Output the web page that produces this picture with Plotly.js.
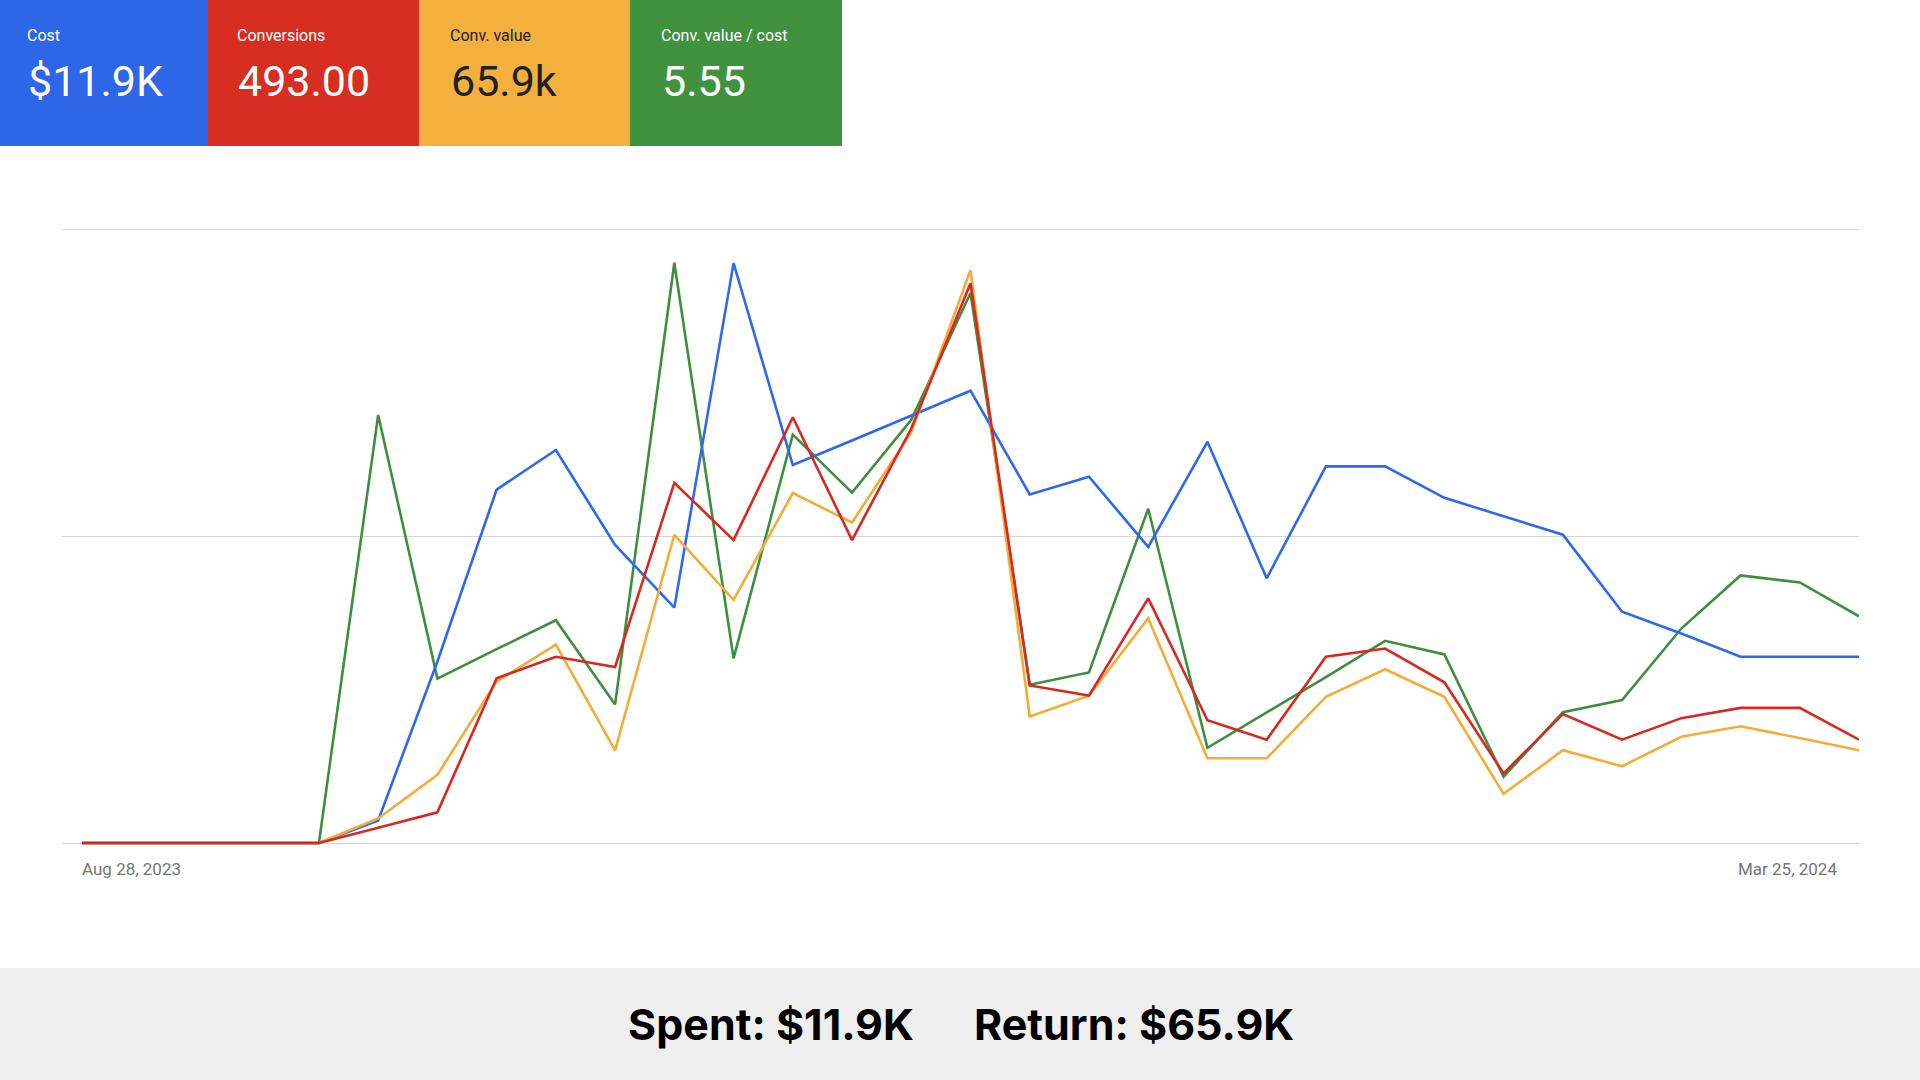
<!DOCTYPE html>
<html>
<head>
<meta charset="utf-8">
<script src="https://cdn.plot.ly/plotly-3.0.1.min.js"></script>
<style>
html,body{margin:0;padding:0;background:#ffffff;}
#chart{width:1920px;height:1080px;}
</style>
</head>
<body>
<div id="chart"></div>
<script>
// ---- data ----
const weeks = ['2023-08-28','2023-09-04','2023-09-11','2023-09-18','2023-09-25','2023-10-02','2023-10-09','2023-10-16','2023-10-23','2023-10-30','2023-11-06','2023-11-13','2023-11-20','2023-11-27','2023-12-04','2023-12-11','2023-12-18','2023-12-25','2024-01-01','2024-01-08','2024-01-15','2024-01-22','2024-01-29','2024-02-05','2024-02-12','2024-02-19','2024-02-26','2024-03-04','2024-03-11','2024-03-18','2024-03-25'];
const cost = [0,0,0,0,0,33,266,518,576,437,345,850,554,590,627,663,511,537,434,588,388,552,552,506,479,452,339,307,273,273,273];
const conversions = [0,0,0,0,0,1.5,3.0,16.1,18.2,17.2,35.2,29.6,41.6,29.6,40.5,54.7,15.4,14.4,23.9,12.0,10.1,18.2,19.0,15.7,6.8,12.6,10.1,12.2,13.2,13.2,10.1];
const convValue = [0,0,0,0,0,360,1000,2367,2907,1359,4518,3564,5130,4698,6021,8397,1854,2160,3294,1242,1242,2142,2547,2142,720,1359,1125,1557,1710,1539,1359];
const roas = [0,0,0,0,0,9.76,3.75,4.42,5.08,3.16,13.23,4.21,9.31,7.99,9.65,12.54,3.61,3.89,7.62,2.17,2.98,3.78,4.61,4.30,1.51,2.98,3.26,4.89,6.10,5.94,5.17];

const kpiLabels = ['Cost','Conversions','Conv. value','Conv. value / cost'];
const kpiValues = ['$11.9K','493.00','65.9k','5.55'];
const axisLabels = ['Aug 28, 2023','Mar 25, 2024'];
const footerTexts = ['Spent: $11.9K','Return: $65.9K'];

// ---- style ----
const tileColors = ['#2d66e6','#d82e21','#f3b03c','#41923f'];
const tileTextColors = ['#ffffff','#ffffff','#202124','#ffffff'];
const lineColors = {cost:'#2d68ee', conv:'#d8281f', value:'#f4ac38', roas:'#3d8f3f'};
const axisTops = {cost:900, conv:60, value:9000, roas:14};

// plot-area geometry in pixels
const PL = 62, PR = 1859, PT = 226, PB = 848;
const ZERO_PX = 843, TOP_PX = 229;
const PW = PR - PL, PH = PB - PT;
const px = x => (x - PL) / PW;
const py = y => (PB - y) / PH;
function rangeFor(T){
  const unit = T / (ZERO_PX - TOP_PX);
  return [-(PB - ZERO_PX) * unit, T + (TOP_PX - PT) * unit];
}

// overlay subplots are layered y, y2, y3, y4 -> conversions (red) ends on top
const lw = 2.6;
const traces = [
  {x: weeks, y: roas, yaxis:'y', name:'Conv. value / cost', mode:'lines', line:{color:lineColors.roas, width:lw}},
  {x: weeks, y: cost, yaxis:'y2', name:'Cost', mode:'lines', line:{color:lineColors.cost, width:lw}},
  {x: weeks, y: convValue, yaxis:'y3', name:'Conv. value', mode:'lines', line:{color:lineColors.value, width:lw}},
  {x: weeks, y: conversions, yaxis:'y4', name:'Conversions', mode:'lines', line:{color:lineColors.conv, width:lw}}
];

// ---- shapes ----
const tileEdges = [0,208,419,630,842];
const textLeft = [25,235,448,659];
const TILE_H = 146;
const shapes = [];
for (let i = 0; i < 4; i++) {
  shapes.push({type:'rect', xref:'paper', yref:'paper', x0:px(tileEdges[i]), x1:px(tileEdges[i+1]), y0:py(TILE_H), y1:py(0), fillcolor:tileColors[i], line:{width:0}, layer:'above'});
}
shapes.push({type:'rect', xref:'paper', yref:'paper', x0:px(0), x1:px(1920), y0:py(1080), y1:py(968), fillcolor:'#efefef', line:{width:0}, layer:'below'});

// ---- annotations ----
const annotations = [];
for (let i = 0; i < 4; i++) {
  annotations.push({xref:'paper', yref:'paper', x:px(textLeft[i]), y:py(35), xanchor:'left', yanchor:'middle', showarrow:false, text:kpiLabels[i], font:{family:'Roboto', size:16, color:tileTextColors[i]}});
  annotations.push({xref:'paper', yref:'paper', x:px(textLeft[i] + 1), y:py(81), xanchor:'left', yanchor:'middle', showarrow:false, text:kpiValues[i], font:{family:'Roboto', size:43, color:tileTextColors[i]}});
}
annotations.push({xref:'paper', yref:'paper', x:px(80), y:py(869), xanchor:'left', yanchor:'middle', showarrow:false, text:axisLabels[0], font:{family:'Roboto', size:17, color:'#757575'}});
annotations.push({xref:'paper', yref:'paper', x:px(1839), y:py(869), xanchor:'right', yanchor:'middle', showarrow:false, text:axisLabels[1], font:{family:'Roboto', size:17, color:'#757575'}});
annotations.push({xref:'paper', yref:'paper', x:px(916), y:py(1024), xanchor:'right', yanchor:'middle', showarrow:false, text:footerTexts[0], font:{family:'Inter', size:43, color:'#000000', weight:700}});
annotations.push({xref:'paper', yref:'paper', x:px(972), y:py(1024), xanchor:'left', yanchor:'middle', showarrow:false, text:footerTexts[1], font:{family:'Inter', size:43, color:'#000000', weight:700}});

// x range: first point sits 20px right of the plot's left edge
const pxPerDay = (PR - (PL + 20)) / 210;
const startMs = new Date('2023-08-28T00:00:00Z').getTime() - (20 / pxPerDay) * 86400000;
const startStr = new Date(startMs).toISOString().replace('T',' ').slice(0,19);

const hiddenY = T => ({overlaying:'y', visible:false, range:rangeFor(T), fixedrange:true});

const layout = {
  width:1920, height:1080,
  margin:{l:PL, r:1920-PR, t:PT, b:1080-PB, pad:0},
  paper_bgcolor:'#ffffff', plot_bgcolor:'#ffffff',
  showlegend:false,
  font:{family:'Roboto'},
  xaxis:{type:'date', range:[startStr, '2024-03-25 00:00:00'], showgrid:false, zeroline:false, showline:false, showticklabels:false, ticks:'', fixedrange:true},
  yaxis:{range:rangeFor(axisTops.roas), tickvals:[0, axisTops.roas/2, axisTops.roas], showticklabels:false, ticks:'', showgrid:true, gridcolor:'#d6d6d6', gridwidth:1, zeroline:false, showline:false, fixedrange:true},
  yaxis2:hiddenY(axisTops.cost),
  yaxis3:hiddenY(axisTops.value),
  yaxis4:hiddenY(axisTops.conv),
  shapes:shapes,
  annotations:annotations
};

Plotly.newPlot('chart', traces, layout, {displayModeBar:false, staticPlot:true});
</script>
</body>
</html>
